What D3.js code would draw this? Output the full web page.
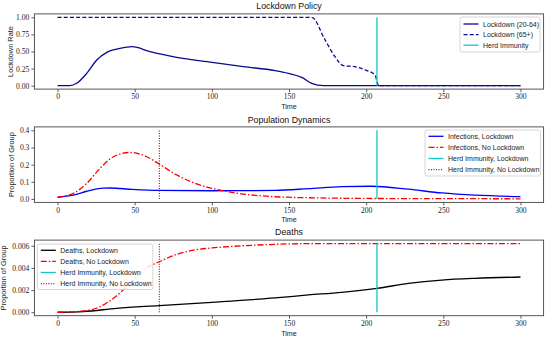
<!DOCTYPE html>
<html><head><meta charset="utf-8">
<script src="https://cdn.jsdelivr.net/npm/d3@7"></script>
<style>body{margin:0;background:#fff}svg{display:block}</style>
</head><body>
<script>
// ---- data ----
const xTicks = [0, 50, 100, 150, 200, 250, 300];
const herdLockdown = 207;
const herdNoLockdown = 66;

const lockYoungT = [0, 8, 12.4, 18.9, 25.4, 31.9, 40.5, 48.4, 60, 77.2, 100, 120.4, 141, 149.6, 158.3, 164.7, 172.3, 200, 250, 300];
const lockYoungV = [0, 0, 0.035, 0.18, 0.376, 0.488, 0.546, 0.57, 0.497, 0.415, 0.342, 0.278, 0.22, 0.18, 0.122, 0.035, 0, 0, 0, 0];
const lockOldT = [0, 100, 164.7, 173.4, 179.8, 185.2, 192.8, 199.3, 205.8, 207.3, 208, 250, 300];
const lockOldV = [1, 1, 1, 0.668, 0.424, 0.292, 0.278, 0.23, 0.156, 0.035, 0, 0, 0];

const infLockT = [0, 10.3, 18.9, 29.7, 34, 48.4, 66, 100, 141, 162.6, 184.2, 203.6, 227.4, 249, 270.6, 300];
const infLockV = [0.01, 0.022, 0.045, 0.063, 0.064, 0.056, 0.05, 0.048, 0.05, 0.06, 0.072, 0.074, 0.057, 0.035, 0.022, 0.014];
const infNoT = [0, 10.3, 18.9, 27.5, 36.2, 47, 57.8, 66, 77.2, 88, 100, 114, 141, 170, 200, 250, 300];
const infNoV = [0.01, 0.033, 0.091, 0.178, 0.246, 0.271, 0.246, 0.203, 0.14, 0.095, 0.062, 0.037, 0.013, 0.006, 0.003, 0.002, 0.001];

const deathLockT = [0, 16.7, 38.4, 66, 100, 141, 162.6, 184.2, 207, 227.4, 249, 270.6, 300];
const deathLockV = [0, 0.00006, 0.00036, 0.0006, 0.0009, 0.0013, 0.00156, 0.0018, 0.00216, 0.0026, 0.0029, 0.00306, 0.00318];
const deathNoT = [0, 16.7, 27.5, 36.2, 44.8, 51.3, 57.8, 66, 77.2, 88, 100, 120.4, 141, 170, 200, 250, 300];
const deathNoV = [0, 0.00012, 0.0005, 0.00126, 0.0023, 0.0032, 0.004, 0.00456, 0.00522, 0.0056, 0.0058, 0.006, 0.00613, 0.0062, 0.0062, 0.0062, 0.0062];

// ---- drawing ----
const W = 550, H = 338;
const svg = d3.select("body").append("svg").attr("width", W).attr("height", H);
const sans = "'Liberation Sans', Arial, sans-serif";
const serif = "'Liberation Serif', 'DejaVu Serif', serif";

const C = {navy: "#0a0a90", blue: "#0000ff", red: "#ff0000", cyan: "#12c6c8", darkred: "#a01818", black: "#000"};

const x = d3.scaleLinear().domain([-15, 315]).range([34.4, 543.6]);

function zip(t, v) { return t.map((d, i) => [d, v[i]]); }

function panel(cfg) {
  const y = d3.scaleLinear().domain(cfg.ydom).range(cfg.yrange);
  const g = svg.append("g");
  const [x0, x1] = x.range();
  const [yb, yt] = cfg.yrange;
  // axes
  const xa = g.append("g").attr("transform", `translate(0,${yb})`)
    .call(d3.axisBottom(x).tickValues(xTicks).tickSize(3).tickPadding(2).tickFormat(d3.format("d")));
  const ya = g.append("g").attr("transform", `translate(${x0},0)`)
    .call(d3.axisLeft(y).tickValues(cfg.yticks).tickSize(3).tickPadding(2).tickFormat(d3.format(cfg.fmt)));
  [xa, ya].forEach(a => {
    a.attr("font-family", serif).attr("font-size", 7.6);
    a.select(".domain").remove();
    a.selectAll("line").attr("stroke", "#333").attr("stroke-width", 0.8);
    a.selectAll("text").attr("fill", "#222");
  });
  // lines
  const line = d3.line().x(d => x(d[0])).y(d => y(d[1])).curve(d3.curveMonotoneX);
  cfg.series.forEach(s => {
    g.append("path").attr("d", line(s.data)).attr("fill", "none")
      .attr("stroke", s.color).attr("stroke-width", 1.3)
      .attr("stroke-dasharray", s.dash || null);
  });
  cfg.vlines.forEach(v => {
    g.append("line").attr("x1", x(v.t)).attr("x2", x(v.t))
      .attr("y1", y(v.y0)).attr("y2", y(v.y1))
      .attr("stroke", v.color).attr("stroke-width", v.w || 1.3)
      .attr("stroke-dasharray", v.dash || null);
  });
  // frame
  g.append("rect").attr("x", x0).attr("y", yt).attr("width", x1 - x0).attr("height", yb - yt)
    .attr("fill", "none").attr("stroke", "#444").attr("stroke-width", 0.9);
  // title / labels
  g.append("text").attr("x", (x0 + x1) / 2).attr("y", cfg.titleY).attr("text-anchor", "middle")
    .attr("font-family", sans).attr("font-size", 8.8).attr("fill", "#111").text(cfg.title);
  g.append("text").attr("x", (x0 + x1) / 2).attr("y", yb + 19.8).attr("text-anchor", "middle")
    .attr("font-family", sans).attr("font-size", 7.2).attr("fill", "#222").text("Time");
  g.append("text").attr("transform", `translate(${cfg.ylabX},${(yb + yt) / 2}) rotate(-90)`)
    .attr("text-anchor", "middle").attr("font-family", sans).attr("font-size", 7.4).attr("fill", "#222")
    .text(cfg.ylabel);
  // legend
  const L = cfg.legend;
  const lg = g.append("g");
  lg.append("rect").attr("x", L.x).attr("y", L.y).attr("width", L.w).attr("height", L.h)
    .attr("rx", 2).attr("fill", "#fff").attr("fill-opacity", 0.85).attr("stroke", "#ccc").attr("stroke-width", 0.8);
  L.items.forEach((it, i) => {
    const yy = L.y + L.first + i * L.step;
    lg.append("line").attr("x1", L.x + 3.5).attr("x2", L.x + 18.5).attr("y1", yy).attr("y2", yy)
      .attr("stroke", it.color).attr("stroke-width", it.w || 1.3).attr("stroke-dasharray", it.dash || null);
    lg.append("text").attr("x", L.x + 23).attr("y", yy + 2.5)
      .attr("font-family", sans).attr("font-size", 7).attr("fill", "#222").text(it.label);
  });
}

const dashDot = "6,2,1.5,2";

panel({
  title: "Lockdown Policy", titleY: 9, ylabel: "Lockdown Rate", ylabX: 13,
  ydom: [-0.05, 1.05], yrange: [89.1, 13.9], yticks: [0, 0.25, 0.5, 0.75, 1], fmt: ".2f",
  series: [
    {data: zip(lockYoungT, lockYoungV), color: C.navy},
    {data: zip(lockOldT, lockOldV), color: C.navy, dash: "4,2.2"}
  ],
  vlines: [{t: herdLockdown, y0: 0, y1: 1, color: C.cyan}],
  legend: {x: 460, y: 17, w: 80, h: 35, first: 7, step: 10.6, items: [
    {label: "Lockdown (20-64)", color: C.navy},
    {label: "Lockdown (65+)", color: C.navy, dash: "4,2.2"},
    {label: "Herd Immunity", color: C.cyan}
  ]}
});

panel({
  title: "Population Dynamics", titleY: 123, ylabel: "Proportion of Group", ylabX: 14,
  ydom: [-0.02, 0.42], yrange: [202.4, 126.9], yticks: [0, 0.1, 0.2, 0.3, 0.4], fmt: ".1f",
  series: [
    {data: zip(infLockT, infLockV), color: C.blue},
    {data: zip(infNoT, infNoV), color: C.red, dash: dashDot}
  ],
  vlines: [
    {t: herdLockdown, y0: 0, y1: 0.4, color: C.cyan},
    {t: herdNoLockdown, y0: 0, y1: 0.4, color: C.darkred, dash: "1,1.5", w: 1.2}
  ],
  legend: {x: 425, y: 130, w: 115.5, h: 46, first: 6.3, step: 11.1, items: [
    {label: "Infections, Lockdown", color: C.blue},
    {label: "Infections, No Lockdown", color: C.red, dash: dashDot},
    {label: "Herd Immunity, Lockdown", color: C.cyan},
    {label: "Herd Immunity, No Lockdown", color: C.darkred, dash: "1,1.5", w: 1.2}
  ]}
});

panel({
  title: "Deaths", titleY: 235, ylabel: "Proportion of Group", ylabX: 6,
  ydom: [-0.00031, 0.00651], yrange: [315.7, 240.1], yticks: [0, 0.002, 0.004, 0.006], fmt: ".3f",
  series: [
    {data: zip(deathLockT, deathLockV), color: C.black},
    {data: zip(deathNoT, deathNoV), color: C.red, dash: dashDot}
  ],
  vlines: [
    {t: herdLockdown, y0: 0, y1: 0.0062, color: C.cyan},
    {t: herdNoLockdown, y0: 0, y1: 0.0062, color: C.darkred, dash: "1,1.5", w: 1.2}
  ],
  legend: {x: 37.3, y: 244, w: 115.5, h: 45.5, first: 6.3, step: 11.1, items: [
    {label: "Deaths, Lockdown", color: C.black},
    {label: "Deaths, No Lockdown", color: C.red, dash: dashDot},
    {label: "Herd Immunity, Lockdown", color: C.cyan},
    {label: "Herd Immunity, No Lockdown", color: C.darkred, dash: "1,1.5", w: 1.2}
  ]}
});
</script>
</body></html>
